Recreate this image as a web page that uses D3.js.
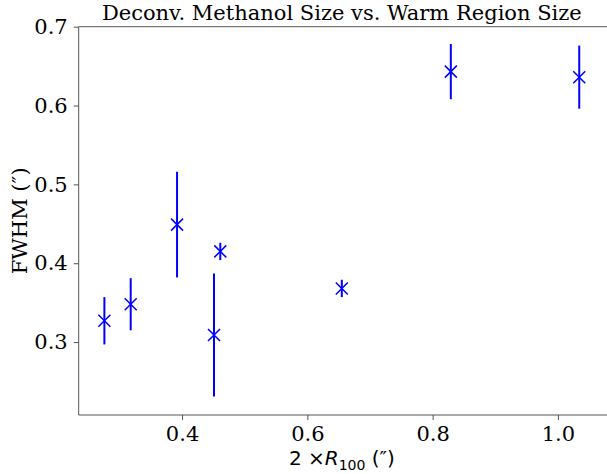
<!DOCTYPE html>
<html>
<head>
<meta charset="utf-8">
<script src="https://cdn.jsdelivr.net/npm/d3@7"></script>
<style>
  body { margin: 0; background: #fff; }
  svg { display: block; }
  .tick text { font-family: "DejaVu Serif", serif; font-size: 21px; fill: #000; }
</style>
</head>
<body>
<div class="visual"></div>
<script>
const width = 607;
const height = 474;

// warm region size (2 x R100, arcsec) vs deconvolved methanol FWHM
const sizeX = [0.276, 0.318, 0.392, 0.451, 0.461, 0.655, 0.829, 1.034];
const fwhm = [0.327, 0.348, 0.449, 0.309, 0.415, 0.368, 0.643, 0.636];
const fwhmErr = [0.030, 0.033, 0.067, 0.078, 0.011, 0.011, 0.035, 0.040];
const xTicks = [0.4, 0.6, 0.8, 1.0];
const yTicks = [0.3, 0.4, 0.5, 0.6, 0.7];

const plotLeft = 78.7, plotTop = 26.7, plotBottom = 415;

const svg = d3
  .select(".visual")
  .append("svg")
  .attr("width", width)
  .attr("height", height);

const x = d3.scaleLinear().domain([0.235, 1.0815]).range([plotLeft, 609]);
const y = d3.scaleLinear().domain([0.2075, 0.7]).range([plotBottom, plotTop]);

// frame (right side falls off the picture)
svg
  .append("path")
  .attr("d", `M${width + 5},${plotTop}H${plotLeft}V${plotBottom}H${width + 5}`)
  .attr("fill", "none")
  .attr("stroke", "#555")
  .attr("stroke-width", 1);

const xAxis = svg
  .append("g")
  .attr("transform", `translate(0,${plotBottom})`)
  .call(d3.axisBottom(x).tickValues(xTicks).tickFormat(d3.format(".1f")).tickSize(5).tickPadding(6));
xAxis.select(".domain").remove();
xAxis.selectAll(".tick line").attr("stroke", "#555");

const yAxis = svg
  .append("g")
  .attr("transform", `translate(${plotLeft},0)`)
  .call(d3.axisLeft(y).tickValues(yTicks).tickFormat(d3.format(".1f")).tickSize(5).tickPadding(6));
yAxis.select(".domain").remove();
yAxis.selectAll(".tick line").attr("stroke", "#555");

const pts = sizeX.map((d, i) => ({ x: d, y: fwhm[i], e: fwhmErr[i] }));

// error bars
svg
  .selectAll("line.err")
  .data(pts)
  .enter()
  .append("line")
  .attr("class", "err")
  .attr("x1", (d) => x(d.x))
  .attr("x2", (d) => x(d.x))
  .attr("y1", (d) => y(d.y - d.e))
  .attr("y2", (d) => y(d.y + d.e))
  .attr("stroke", "#0000ff")
  .attr("stroke-width", 2);

// x markers
const m = 6;
svg
  .selectAll("path.mark")
  .data(pts)
  .enter()
  .append("path")
  .attr("class", "mark")
  .attr("d", (d) => {
    const cx = x(d.x), cy = y(d.y);
    return `M${cx - m},${cy - m}L${cx + m},${cy + m}M${cx - m},${cy + m}L${cx + m},${cy - m}`;
  })
  .attr("stroke", "#0000ff")
  .attr("stroke-width", 1.5)
  .attr("fill", "none");

// title and labels
svg
  .append("text")
  .attr("x", (plotLeft + 605) / 2)
  .attr("y", 20)
  .attr("text-anchor", "middle")
  .style("font-family", "DejaVu Serif, serif")
  .style("font-size", "21px")
  .text("Deconv. Methanol Size vs. Warm Region Size");

svg
  .append("text")
  .attr("transform", `translate(27,${(plotTop + plotBottom) / 2}) rotate(-90)`)
  .attr("text-anchor", "middle")
  .style("font-family", "DejaVu Serif, serif")
  .style("font-size", "21px")
  .text("FWHM (″)");

const xl = svg
  .append("text")
  .attr("x", (plotLeft + 605) / 2)
  .attr("y", 465)
  .attr("text-anchor", "middle")
  .style("font-family", "DejaVu Sans, sans-serif")
  .style("font-size", "20px");
xl.append("tspan").text("2 ×");
xl.append("tspan").style("font-style", "italic").text("R");
xl.append("tspan").attr("dy", 5).style("font-size", "14px").text("100");
xl.append("tspan").attr("dy", -5).text(" (″)");
</script>
</body>
</html>
